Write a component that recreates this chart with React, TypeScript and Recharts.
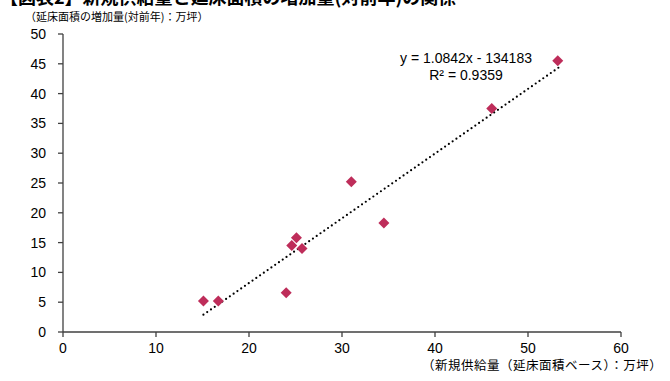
import {
  ScatterChart,
  Scatter,
  XAxis,
  YAxis,
  ReferenceLine,
} from 'recharts';

// 新規供給量 (万坪) vs 延床面積の増加量 (万坪)
const supply = [15.1, 16.7, 24.0, 24.6, 25.1, 25.7, 31.0, 34.5, 46.1, 53.2];
const increase = [5.2, 5.2, 6.6, 14.5, 15.8, 14.0, 25.2, 18.3, 37.5, 45.5];

const xTicks = [0, 10, 20, 30, 40, 50, 60];
const yTicks = [0, 5, 10, 15, 20, 25, 30, 35, 40, 45, 50];

// 近似直線の両端 (y = 1.0842x - 13.4183)
const trendStart = { x: 15.1, y: 2.9 };
const trendEnd = { x: 53.6, y: 44.7 };

const MARKER = '#BE2D5A';
const JP = '"Noto Sans CJK JP", sans-serif';
const EN = '"Liberation Sans", Arial, sans-serif';

const data = supply.map((x, i) => ({ x, y: increase[i] }));

const Diamond = (props: any) => {
  const { cx, cy } = props;
  const r = 5.5;
  return (
    <polygon
      points={`${cx},${cy - r} ${cx + r},${cy} ${cx},${cy + r} ${cx - r},${cy}`}
      fill={MARKER}
    />
  );
};

export default function App() {
  return (
    <div
      style={{
        position: 'absolute',
        left: 0,
        top: 0,
        width: 670,
        height: 381,
        background: '#fff',
        overflow: 'hidden',
        fontFamily: EN,
      }}
    >
      <div
        style={{
          position: 'absolute',
          left: 0,
          top: -13,
          fontFamily: JP,
          fontWeight: 700,
          fontSize: 18,
          lineHeight: '18px',
          whiteSpace: 'nowrap',
          color: '#000',
        }}
      >
        【図表2】新規供給量と延床面積の増加量(対前年)の関係
      </div>
      <div
        style={{
          position: 'absolute',
          left: 25,
          top: 10,
          fontFamily: JP,
          fontSize: 11,
          lineHeight: '12px',
          whiteSpace: 'nowrap',
          color: '#000',
        }}
      >
        （延床面積の増加量(対前年)：万坪）
      </div>
      <div
        style={{
          position: 'absolute',
          left: 422,
          top: 357,
          fontFamily: JP,
          fontSize: 12.5,
          letterSpacing: 0.5,
          lineHeight: '15px',
          whiteSpace: 'nowrap',
          color: '#000',
        }}
      >
        （新規供給量（延床面積ベース）：万坪）
      </div>
      <div
        style={{
          position: 'absolute',
          left: 388,
          top: 50,
          width: 156,
          textAlign: 'center',
          fontFamily: EN,
          fontSize: 14,
          lineHeight: '17px',
          color: '#000',
        }}
      >
        y = 1.0842x - 134183
        <br />
        R² = 0.9359
      </div>
      <ScatterChart
        width={670}
        height={381}
        margin={{ top: 34, right: 49, bottom: 0, left: 0 }}
      >
        <XAxis
          type="number"
          dataKey="x"
          domain={[0, 60]}
          ticks={xTicks}
          height={49}
          tickSize={5}
          tickMargin={6}
          axisLine={{ stroke: '#404040', strokeWidth: 1.3 }}
          tickLine={{ stroke: '#404040', strokeWidth: 1.3 }}
          tick={{ fill: '#000', fontSize: 14, fontFamily: EN }}
        />
        <YAxis
          type="number"
          dataKey="y"
          domain={[0, 50]}
          ticks={yTicks}
          width={63}
          tickSize={5}
          tickMargin={12}
          axisLine={{ stroke: '#404040', strokeWidth: 1.3 }}
          tickLine={{ stroke: '#404040', strokeWidth: 1.3 }}
          tick={{ fill: '#000', fontSize: 14, fontFamily: EN }}
        />
        <ReferenceLine
          segment={[trendStart, trendEnd]}
          stroke="#000"
          strokeWidth={2.2}
          strokeDasharray="0 4.6"
          strokeLinecap="round"
          ifOverflow="visible"
        />
        <Scatter data={data} shape={Diamond} isAnimationActive={false} />
      </ScatterChart>
    </div>
  );
}
